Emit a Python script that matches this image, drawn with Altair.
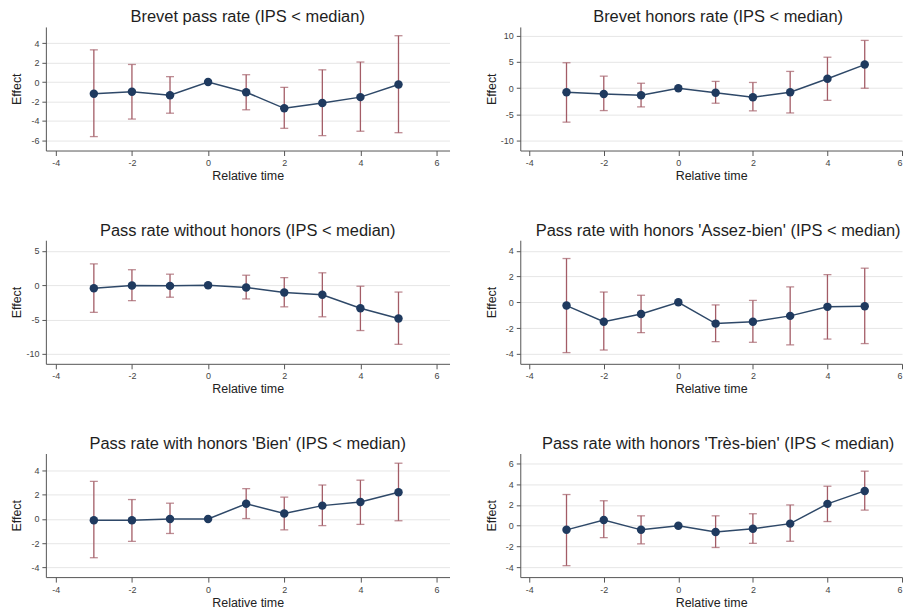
import altair as alt
import pandas as pd

# ---------------- data ----------------
time = [-3, -2, -1, 0, 1, 2, 3, 4, 5]

titles = [
    "Brevet pass rate (IPS < median)",
    "Brevet honors rate (IPS < median)",
    "Pass rate without honors (IPS < median)",
    "Pass rate with honors 'Assez-bien' (IPS < median)",
    "Pass rate with honors 'Bien' (IPS < median)",
    "Pass rate with honors 'Très-bien' (IPS < median)",
]

p1_est = [-1.2, -1.0, -1.35, 0, -1.05, -2.7, -2.15, -1.55, -0.25]
p1_lo = [-5.6, -3.8, -3.2, 0, -2.85, -4.75, -5.5, -5.05, -5.2]
p1_hi = [3.3, 1.8, 0.55, 0, 0.75, -0.55, 1.25, 2.05, 4.75]

p2_est = [-0.75, -1.1, -1.35, 0, -0.85, -1.7, -0.75, 1.8, 4.5]
p2_lo = [-6.45, -4.25, -3.55, 0, -2.85, -4.3, -4.7, -2.3, 0.0]
p2_hi = [4.85, 2.3, 0.95, 0, 1.3, 1.1, 3.2, 5.9, 9.1]

p3_est = [-0.45, -0.05, -0.1, 0, -0.35, -1.05, -1.4, -3.35, -4.85]
p3_lo = [-3.95, -2.25, -1.75, 0, -2.0, -3.15, -4.6, -6.6, -8.6]
p3_hi = [3.1, 2.25, 1.6, 0, 1.45, 1.1, 1.8, -0.15, -1.0]

p4_est = [-0.25, -1.5, -0.9, 0, -1.65, -1.5, -1.05, -0.35, -0.3]
p4_lo = [-3.9, -3.7, -2.35, 0, -3.05, -3.1, -3.3, -2.85, -3.2]
p4_hi = [3.4, 0.8, 0.55, 0, -0.2, 0.15, 1.2, 2.15, 2.65]

p5_est = [-0.1, -0.1, 0.0, 0, 1.25, 0.45, 1.1, 1.4, 2.2]
p5_lo = [-3.2, -1.85, -1.2, 0, 0.03, -0.9, -0.55, -0.45, -0.15]
p5_hi = [3.1, 1.6, 1.3, 0, 2.5, 1.8, 2.8, 3.2, 4.6]

p6_est = [-0.4, 0.55, -0.4, 0, -0.6, -0.3, 0.2, 2.1, 3.35]
p6_lo = [-3.85, -1.15, -1.75, 0, -2.1, -1.7, -1.5, 0.4, 1.5]
p6_hi = [3.0, 2.4, 0.95, 0, 0.95, 1.15, 2.0, 3.8, 5.25]

estimates = [p1_est, p2_est, p3_est, p4_est, p5_est, p6_est]
lowers = [p1_lo, p2_lo, p3_lo, p4_lo, p5_lo, p6_lo]
uppers = [p1_hi, p2_hi, p3_hi, p4_hi, p5_hi, p6_hi]

y_ticks = [
    [-6, -4, -2, 0, 2, 4],
    [-10, -5, 0, 5, 10],
    [-10, -5, 0, 5],
    [-4, -2, 0, 2, 4],
    [-4, -2, 0, 2, 4],
    [-4, -2, 0, 2, 4, 6],
]
y_domains = [
    [-7.03, 5.65],
    [-11.85, 11.66],
    [-11.44, 6.54],
    [-4.77, 4.82],
    [-4.8, 5.4],
    [-4.95, 6.95],
]
x_ticks = [-4, -2, 0, 2, 4, 6]
x_domains = [[-4.26, 6.34], [-4.24, 6.0]]

# ---------------- styling ----------------
FONT = "Liberation Sans"
NAVY = "#1f3a5f"
LINE = "#2e4868"
MAROON = "#a35c66"
PANEL_W = [405, 383]
PANEL_H = 124
HYPHEN = "replace(datum.label, '\u2212', '-')"


def panel(i):
    col = i % 2
    df = pd.DataFrame({"t": time, "est": estimates[i], "lo": lowers[i], "hi": uppers[i]})
    xs = alt.Scale(domain=x_domains[col], nice=False, zero=False)
    ys = alt.Scale(domain=y_domains[i], nice=False, zero=False)
    xax = alt.Axis(values=x_ticks, title="Relative time", grid=False, format="d", labelExpr=HYPHEN)
    yax = alt.Axis(values=y_ticks[i], title="Effect", grid=True, format="d", titleX=-22,
                   labelExpr=HYPHEN)

    def X():
        return alt.X("t:Q", scale=xs, axis=xax)

    def Y(f):
        return alt.Y(f, scale=ys, axis=yax)

    base = alt.Chart(df)
    bars_df = base.transform_filter("datum.lo != datum.hi")
    rules = bars_df.mark_rule(color=MAROON, strokeWidth=1.3).encode(x=X(), y=Y("lo:Q"), y2="hi:Q")
    cap_lo = bars_df.mark_tick(orient="horizontal", size=8, thickness=1.3, color=MAROON).encode(
        x=X(), y=Y("lo:Q"))
    cap_hi = bars_df.mark_tick(orient="horizontal", size=8, thickness=1.3, color=MAROON).encode(
        x=X(), y=Y("hi:Q"))
    line = base.mark_line(color=LINE, strokeWidth=1.5).encode(x=X(), y=Y("est:Q"))
    pts = base.mark_circle(color=NAVY, size=72, opacity=1).encode(x=X(), y=Y("est:Q"))

    return alt.layer(rules, cap_lo, cap_hi, line, pts).properties(
        width=PANEL_W[col],
        height=PANEL_H,
        title=alt.TitleParams(
            titles[i], fontSize=16.5, font=FONT, fontWeight="normal", color="#1e1e1e",
            offset=1, frame="group", anchor="middle", dx=(7 if col == 1 else 0),
        ),
    )


chart = alt.concat(
    *[panel(i) for i in range(6)],
    columns=2,
    spacing={"row": 90, "column": 71},
    bounds="flush",
).properties(
    padding={"left": 3, "top": 0, "right": 0, "bottom": 0}
).configure(
    font=FONT,
    background="white",
).configure_view(
    stroke=None,
).configure_axis(
    domainColor="#555555",
    domainWidth=1,
    tickColor="#555555",
    tickSize=4,
    labelFontSize=9,
    labelColor="#444444",
    labelPadding=3,
    labelFont=FONT,
    titleFont=FONT,
    titleFontSize=12.5,
    titleFontWeight="normal",
    titleColor="#222222",
    titlePadding=2,
    gridColor="#e6e6e6",
    gridWidth=1,
).configure_axisX(
    tickSize=5,
    labelPadding=3,
)

chart.save("out.html", embed_options={"renderer": "svg", "actions": False})
